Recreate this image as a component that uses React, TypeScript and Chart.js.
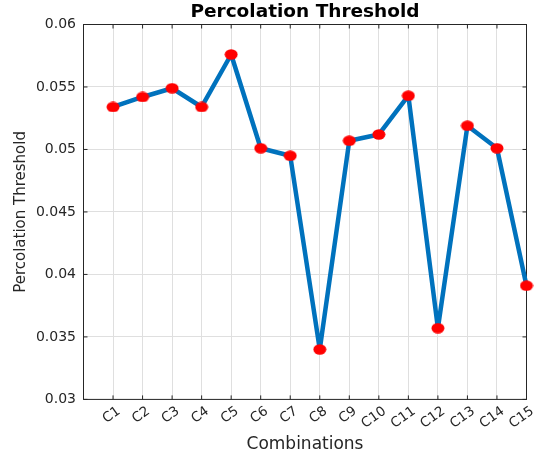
import React, { useEffect, useRef } from "react";
import { Chart, registerables } from "chart.js";

Chart.register(...registerables);

const categories = ["C1", "C2", "C3", "C4", "C5", "C6", "C7", "C8", "C9", "C10", "C11", "C12", "C13", "C14", "C15"];
const thresholds = [0.0534, 0.0542, 0.0549, 0.0534, 0.0576, 0.0501, 0.0495, 0.034, 0.0507, 0.0512, 0.0543, 0.0357, 0.0519, 0.0501, 0.0391];
const yTickLabels = ["0.03", "0.035", "0.04", "0.045", "0.05", "0.055", "0.06"];

const FONT = "'DejaVu Sans', sans-serif";
const AXIS_COLOR = "#262626";
const GRID_COLOR = "#dfdfdf";

function makeMarker(): HTMLCanvasElement {
  const c = document.createElement("canvas");
  c.width = 14;
  c.height = 11;
  const g = c.getContext("2d")!;
  g.fillStyle = "#ff0000";
  g.beginPath();
  g.ellipse(7, 5.5, 6.5, 5.2, 0, 0, Math.PI * 2);
  g.fill();
  return c;
}

const boxPlugin = {
  id: "matlabBox",
  beforeDatasetsDraw(chart: any) {
    const { ctx, chartArea, scales } = chart;
    const { left, right, top, bottom } = chartArea;
    const x = scales.x;
    const y = scales.y;
    ctx.save();
    ctx.strokeStyle = AXIS_COLOR;
    ctx.lineWidth = 1;
    ctx.strokeRect(left, top, right - left, bottom - top);
    const len = 4;
    ctx.beginPath();
    x.ticks.forEach((t: any) => {
      const px = x.getPixelForValue(t.value);
      ctx.moveTo(px, bottom);
      ctx.lineTo(px, bottom - len);
      ctx.moveTo(px, top);
      ctx.lineTo(px, top + len);
    });
    y.ticks.forEach((t: any) => {
      const py = y.getPixelForValue(t.value);
      ctx.moveTo(left, py);
      ctx.lineTo(left + len, py);
      ctx.moveTo(right, py);
      ctx.lineTo(right - len, py);
    });
    ctx.stroke();
    ctx.restore();
  },
};

export default function App() {
  const ref = useRef<HTMLCanvasElement | null>(null);

  useEffect(() => {
    document.body.style.margin = "0";
    const canvas = ref.current;
    if (!canvas) return;
    const marker = makeMarker();
    const chart = new Chart(canvas, {
      type: "line",
      data: {
        datasets: [
          {
            data: thresholds.map((v, i) => ({ x: i + 1, y: v })),
            borderColor: "#0072BD",
            borderWidth: 4.5,
            borderJoinStyle: "round",
            borderCapStyle: "round",
            pointStyle: marker as any,
            pointRadius: 6,
            pointHoverRadius: 6,
            tension: 0,
            fill: false,
            clip: false as any,
          },
        ],
      },
      options: {
        responsive: false,
        animation: false,
        events: [],
        layout: { padding: { left: 0, right: 10.5, top: 0, bottom: 0 } },
        plugins: {
          legend: { display: false },
          tooltip: { enabled: false },
          title: {
            display: true,
            text: "Percolation Threshold",
            fullSize: false,
            color: "#000000",
            font: { family: FONT, size: 18.5, weight: "bold", lineHeight: 1.2 },
            padding: { top: 1, bottom: 1.3 },
          },
        },
        scales: {
          x: {
            type: "linear",
            min: 0,
            max: 15,
            afterBuildTicks: (scale: any) => {
              scale.ticks = categories.map((_, i) => ({ value: i + 1 }));
            },
            afterFit: (scale: any) => {
              scale.height = 57.6;
              scale.paddingLeft = 0;
              scale.paddingRight = 0;
            },
            ticks: {
              autoSkip: false,
              minRotation: 35,
              maxRotation: 35,
              padding: 4,
              labelOffset: 6,
              color: AXIS_COLOR,
              font: { family: FONT, size: 13.5 },
              callback: (_v: any, index: number) => categories[index],
            },
            grid: { color: GRID_COLOR, drawTicks: false, lineWidth: 1 },
            border: { display: false },
            title: {
              display: true,
              text: "Combinations",
              color: AXIS_COLOR,
              font: { family: FONT, size: 17, lineHeight: 1.2 },
              padding: { top: 0, bottom: 2.7 },
            },
          },
          y: {
            type: "linear",
            min: 0.03,
            max: 0.06,
            afterBuildTicks: (scale: any) => {
              scale.ticks = yTickLabels.map((s) => ({ value: parseFloat(s) }));
            },
            afterFit: (scale: any) => {
              scale.width = 83.5;
            },
            ticks: {
              padding: 7.5,
              color: AXIS_COLOR,
              font: { family: FONT, size: 14 },
              callback: (_v: any, index: number) => yTickLabels[index],
            },
            grid: { color: GRID_COLOR, drawTicks: false, lineWidth: 1 },
            border: { display: false },
            title: {
              display: true,
              text: "Percolation Threshold",
              color: AXIS_COLOR,
              font: { family: FONT, size: 15, lineHeight: 1.2 },
              padding: { top: 12, bottom: 0 },
            },
          },
        },
      },
      plugins: [boxPlugin],
    });
    return () => chart.destroy();
  }, []);

  return (
    <div style={{ width: 537, height: 457 }}>
      <canvas ref={ref} width={537} height={457} style={{ width: 537, height: 457, display: "block" }} />
    </div>
  );
}
